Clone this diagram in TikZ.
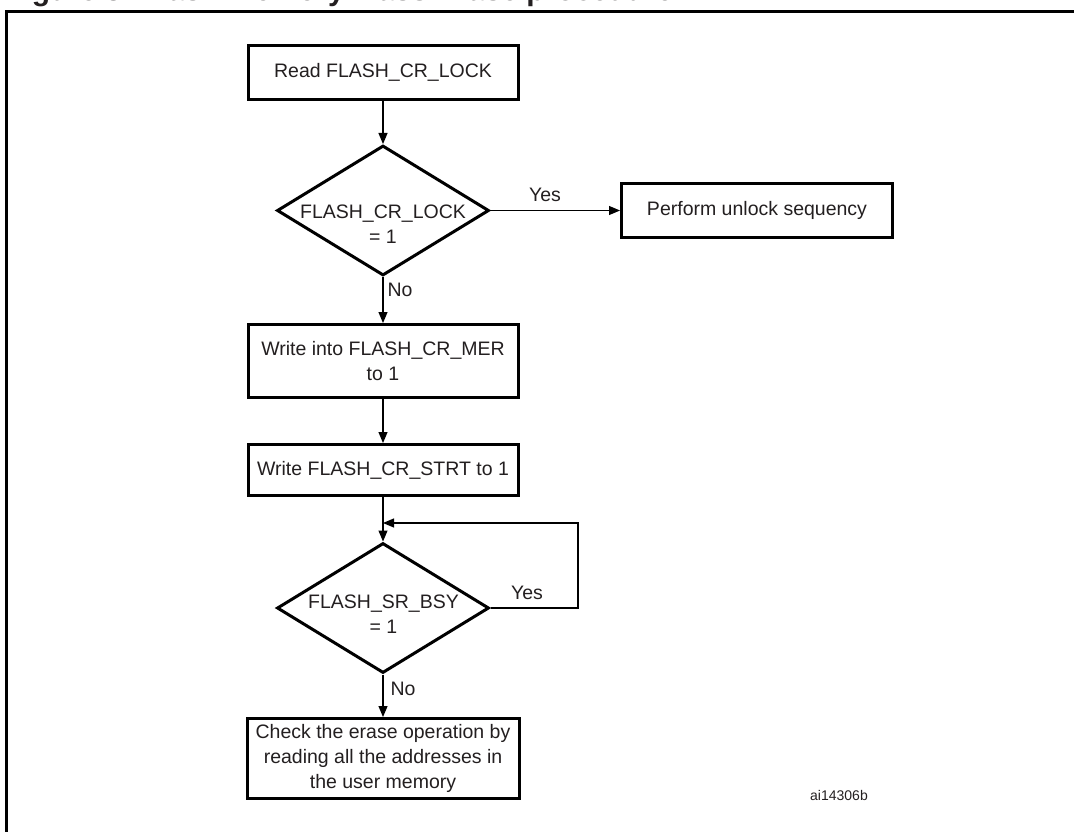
\documentclass[tikz,border=0pt]{standalone}
\usepackage{fontspec}
\setmainfont{Liberation Sans}
\usetikzlibrary{shapes.geometric,arrows.meta}
\definecolor{txt}{HTML}{231F20}
\begin{document}
\begin{tikzpicture}[x=1pt,y=-1pt,
  box/.style={draw=black,line width=3pt,fill=white,inner sep=0pt,align=center,
    font=\fontsize{19.5}{25}\selectfont,text=txt},
  dia/.style={draw=black,line width=3pt,shape=diamond,inner sep=0pt,
    minimum width=212pt,minimum height=130pt},
  lbl/.style={font=\fontsize{19.5}{25}\selectfont,text=txt,inner sep=0pt,align=center},
  conn/.style={line width=1.2pt,-{Triangle[length=11pt,width=9pt]}},
  plain/.style={line width=1.2pt}]
\useasboundingbox (0,0) rectangle (1074,832);
\begin{scope}
\clip (0,0) rectangle (1074,832);
\node[anchor=base west,inner sep=0pt,text=txt,font=\bfseries\fontsize{30}{30}\selectfont] (cap) at (5,1) {Figure 3. Flash memory Mass Erase procedure};
\draw[line width=3pt] (6.5,11.5) rectangle (1100,860);

\node[box,minimum width=270pt,minimum height=54pt] (b1) at (383,72.5) {Read FLASH\_CR\_LOCK};
\node[dia] (d1) at (383,210.5) {};
\node[lbl] (d1t) at (383,224.5) {FLASH\_CR\_LOCK\\= 1};
\node[box,minimum width=271pt,minimum height=53pt] (b2) at (757,210.5) {Perform unlock sequency};
\node[box,minimum width=270pt,minimum height=73pt] (b3) at (383,361) {Write into FLASH\_CR\_MER\\to 1};
\node[box,minimum width=270pt,minimum height=51pt] (b4) at (383,470) {Write FLASH\_CR\_STRT to 1};
\node[dia] (d2) at (383,608) {};
\node[lbl] (d2t) at (383.5,614.5) {FLASH\_SR\_BSY\\= 1};
\node[box,minimum width=272pt,minimum height=80pt] (b5) at (383,758.5) {Check the erase operation by\\reading all the addresses in\\the user memory};

\coordinate (lr) at (578,608);
\coordinate (ur) at (578,523);
\coordinate (jn) at (383,523);

\draw[conn] (b1.south) -- (d1.north);
\draw[conn] (d1.east) -- (b2.west);
\draw[conn] (d1.south) -- (b3.north);
\draw[conn] (b3.south) -- (b4.north);
\draw[conn] (b4.south) -- (d2.north);
\draw[conn] (d2.east) -- (lr) -- (ur) -- (jn);
\draw[conn] (d2.south) -- (b5.north);

\node[lbl] (y1) at (545,194.5) {Yes};
\node[lbl] (n1) at (400,290) {No};
\node[lbl] (y2) at (527,593) {Yes};
\node[lbl] (n2) at (403,688.5) {No};
\node[inner sep=0pt,text=txt,font=\fontsize{14}{16}\selectfont] (ref) at (839,795) {ai14306b};
\end{scope}
\end{tikzpicture}
\end{document}
